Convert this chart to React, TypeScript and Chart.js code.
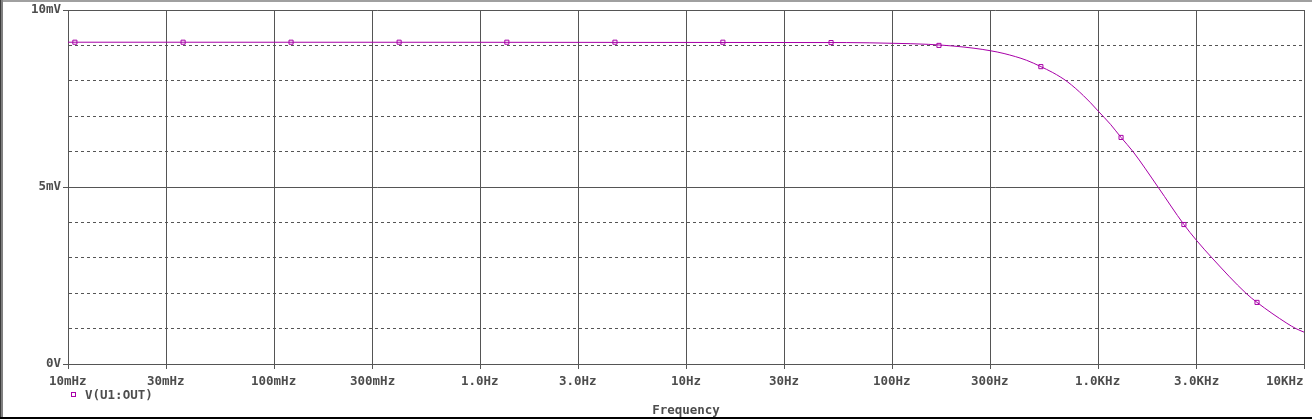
import React, { useEffect, useRef } from 'react';
import { Chart, registerables } from 'chart.js';

Chart.register(...registerables);

// ---- data ----
const freqHz = [0.01, 60, 100, 150, 200, 250, 300, 350, 450, 528, 600, 660, 708, 780, 850, 920, 1000, 1150, 1294, 1479, 1955, 2612, 3000, 3573, 5224, 5915, 8260, 9140, 10000];
const outMilliVolts = [9.09, 9.08, 9.06, 9.03, 8.98, 8.92, 8.85, 8.77, 8.58, 8.4, 8.24, 8.1, 7.98, 7.78, 7.58, 7.38, 7.15, 6.77, 6.4, 6.0, 5.0, 3.94, 3.5, 3.0, 2.0, 1.74, 1.15, 1.0, 0.9];

const markerFreqHz = [0.0108, 0.0362, 0.121, 0.405, 1.35, 4.52, 15.1, 50.6, 169, 528, 1294, 2612, 5915];
const markerMilliVolts = [9.09, 9.09, 9.09, 9.09, 9.09, 9.09, 9.09, 9.08, 9.0, 8.4, 6.4, 3.94, 1.74];

const xTickValues = [0.01, 0.03, 0.1, 0.3, 1, 3, 10, 30, 100, 300, 1000, 3000, 10000];
const xTickLabels = ['10mHz', '30mHz', '100mHz', '300mHz', '1.0Hz', '3.0Hz', '10Hz', '30Hz', '100Hz', '300Hz', '1.0KHz', '3.0KHz', '10KHz'];

const yGridValues = [0, 1, 2, 3, 4, 5, 6, 7, 8, 9, 10];
const yTickValues = [0, 5, 10];
const yTickLabels = ['0V', '5mV', '10mV'];

const seriesLabel = 'V(U1:OUT)';
const xAxisTitle = 'Frequency';

// ---- styles ----
const TRACE = '#a800a8';
const GRID = '#555555';
const TEXT = '#4d4d4d';
const FONT_FAMILY = '"DejaVu Sans Mono", monospace';
const FONT = `bold 12.5px ${FONT_FAMILY}`;

const W = 1312;
const H = 419;

export default function App() {
  const canvasRef = useRef<HTMLCanvasElement | null>(null);

  useEffect(() => {
    const canvas = canvasRef.current;
    if (!canvas) return;

    const framePlugin = {
      id: 'frame',
      beforeDraw(chart: any) {
        const ctx = chart.ctx;
        ctx.save();
        ctx.fillStyle = '#ffffff';
        ctx.fillRect(0, 0, chart.width, chart.height);
        ctx.restore();
      },
      afterDraw(chart: any) {
        const ctx = chart.ctx;
        const xs = chart.scales.x;
        const area = chart.chartArea;
        ctx.save();
        // x tick labels
        ctx.font = FONT;
        ctx.fillStyle = TEXT;
        ctx.textBaseline = 'alphabetic';
        ctx.textAlign = 'left';
        xTickValues.forEach((v, i) => {
          const label = xTickLabels[i];
          const px = xs.getPixelForValue(v);
          const w = ctx.measureText(label).width;
          let left = px - w / 2;
          if (left + w > area.right) left = area.right - w;
          ctx.fillText(label, Math.round(left), area.bottom + 20.5);
        });
        // legend
        const ds = chart.data.datasets[0];
        ctx.strokeStyle = TRACE;
        ctx.lineWidth = 1;
        ctx.strokeRect(71.5, 392.5, 4, 4);
        ctx.fillStyle = TEXT;
        ctx.fillText(ds.label, 85, 399);
        // window frame
        ctx.fillStyle = '#a0a0a0';
        ctx.fillRect(0, 0, chart.width, 2);
        ctx.fillStyle = '#808080';
        ctx.fillRect(1, 0, 2, chart.height);
        ctx.fillStyle = '#3c3c3c';
        ctx.fillRect(0, 0, 1, chart.height);
        ctx.fillStyle = '#000000';
        ctx.fillRect(0, chart.height - 2, chart.width, 2);
        ctx.restore();
      },
    };

    const chart = new Chart(canvas, {
      type: 'line',
      data: {
        datasets: [
          {
            label: seriesLabel,
            data: freqHz.map((f, i) => ({ x: f, y: outMilliVolts[i] })),
            borderColor: TRACE,
            borderWidth: 1,
            pointRadius: 0,
            cubicInterpolationMode: 'monotone',
            fill: false,
          },
          {
            label: seriesLabel + ' markers',
            data: markerFreqHz.map((f, i) => ({ x: f, y: markerMilliVolts[i] })),
            showLine: false,
            pointStyle: 'rect',
            pointRadius: 2.9,
            borderColor: TRACE,
            backgroundColor: '#ffffff',
            borderWidth: 1,
          },
        ],
      },
      options: {
        responsive: false,
        maintainAspectRatio: false,
        animation: false,
        events: [],
        layout: { padding: { top: 10, right: 8, left: 0, bottom: 0 } },
        plugins: {
          legend: { display: false },
          tooltip: { enabled: false },
        },
        scales: {
          x: {
            type: 'logarithmic',
            min: xTickValues[0],
            max: xTickValues[xTickValues.length - 1],
            afterBuildTicks: (s: any) => {
              s.ticks = xTickValues.map((v) => ({ value: v }));
            },
            afterFit: (s: any) => {
              s.height = 55;
              s.paddingLeft = 0;
              s.paddingRight = 0;
            },
            ticks: { display: false },
            grid: {
              color: GRID,
              lineWidth: 1,
              drawTicks: true,
              tickLength: 5,
              tickColor: GRID,
              tickWidth: 1,
            },
            border: { display: true, color: GRID, width: 1 },
            title: {
              display: true,
              text: xAxisTitle,
              color: TEXT,
              font: { family: FONT_FAMILY, size: 12.5, weight: 'bold' },
              padding: { top: 0, bottom: 1 },
            },
          },
          y: {
            type: 'linear',
            min: 0,
            max: 10,
            afterBuildTicks: (s: any) => {
              s.ticks = yGridValues.map((v) => ({ value: v }));
            },
            afterFit: (s: any) => {
              s.width = 68;
              s.paddingTop = 0;
              s.paddingBottom = 0;
            },
            ticks: {
              color: TEXT,
              padding: 2,
              font: { family: FONT_FAMILY, size: 12.5, weight: 'bold' },
              autoSkip: false,
              callback: (value: any) => {
                const idx = yTickValues.indexOf(Number(value));
                return idx >= 0 ? yTickLabels[idx] : '';
              },
            },
            grid: {
              color: GRID,
              lineWidth: 1,
              drawTicks: true,
              tickLength: 5,
              tickWidth: 1,
              tickColor: (ctx: any) =>
                ctx.tick && yTickValues.indexOf(ctx.tick.value) >= 0 ? GRID : 'rgba(0,0,0,0)',
            },
            border: {
              display: true,
              color: GRID,
              width: 1,
              dash: (ctx: any) =>
                ctx.tick && yTickValues.indexOf(ctx.tick.value) < 0 ? [3, 3] : [],
            },
          },
        },
      },
      plugins: [framePlugin],
    } as any);

    return () => {
      chart.destroy();
    };
  }, []);

  return (
    <div style={{ position: 'absolute', left: 0, top: 0, width: W, height: H }}>
      <canvas ref={canvasRef} width={W} height={H} style={{ display: 'block', width: W, height: H }} />
    </div>
  );
}
